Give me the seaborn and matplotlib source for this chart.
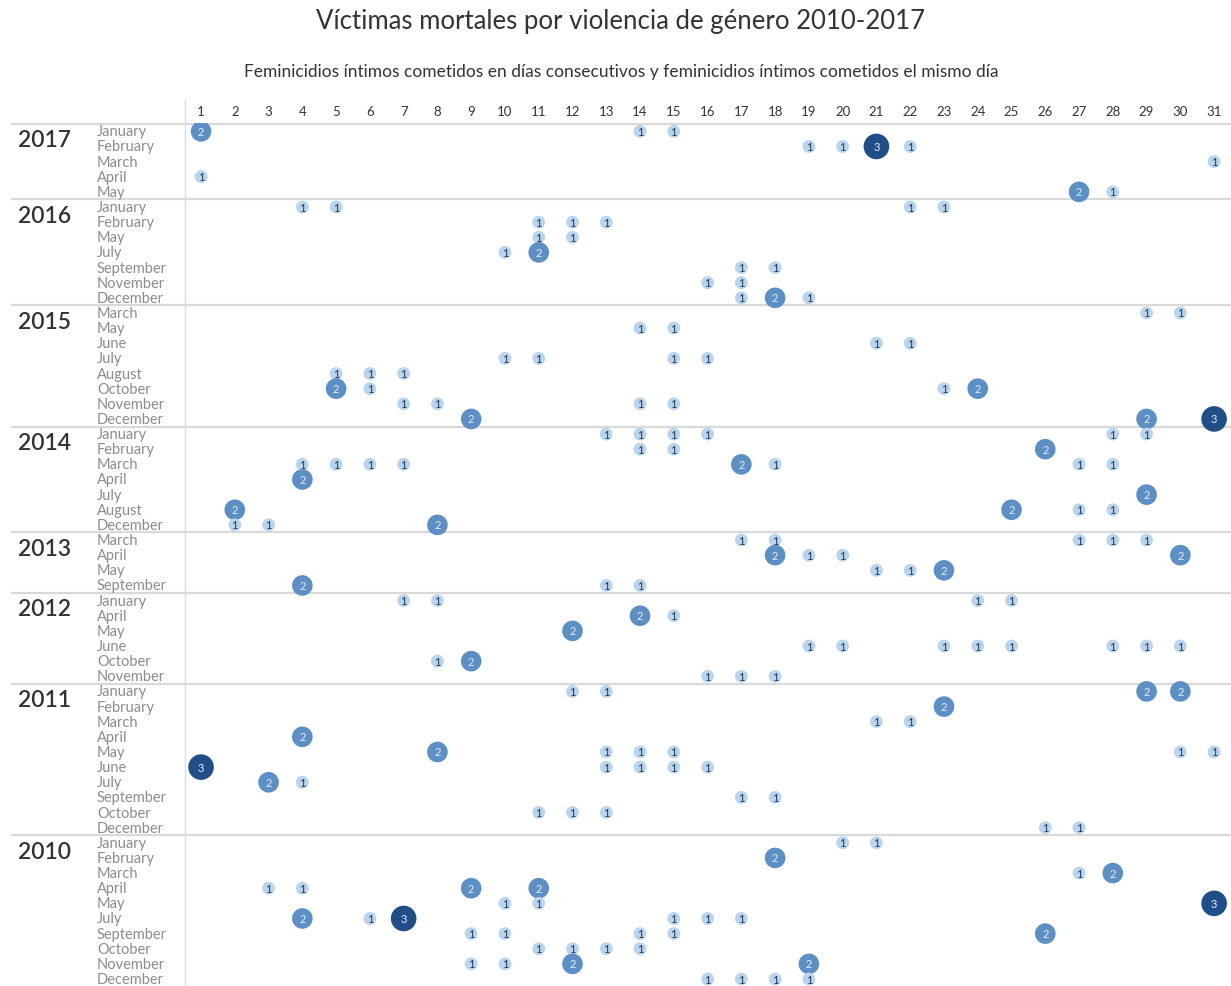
import matplotlib
matplotlib.use("Agg")
import matplotlib.pyplot as plt
import matplotlib.transforms as mtransforms
from matplotlib.lines import Line2D
import pandas as pd
import seaborn as sns

# ---------------- data ----------------
title = "Víctimas mortales por violencia de género 2010-2017"
subtitle = ("Feminicidios íntimos cometidos en días consecutivos y "
            "feminicidios íntimos cometidos el mismo día")

days = list(range(1, 32))
years = [2017, 2016, 2015, 2014, 2013, 2012, 2011, 2010]

months_2017 = ["January", "February", "March", "April", "May"]
months_2016 = ["January", "February", "May", "July", "September", "November", "December"]
months_2015 = ["March", "May", "June", "July", "August", "October", "November", "December"]
months_2014 = ["January", "February", "March", "April", "July", "August", "December"]
months_2013 = ["March", "April", "May", "September"]
months_2012 = ["January", "April", "May", "June", "October", "November"]
months_2011 = ["January", "February", "March", "April", "May", "June", "July",
               "September", "October", "December"]
months_2010 = ["January", "February", "March", "April", "May", "July", "September",
               "October", "November", "December"]

# (month, day, victims)
cases_2017 = [("January", 1, 2), ("January", 14, 1), ("January", 15, 1),
              ("February", 19, 1), ("February", 20, 1), ("February", 21, 3), ("February", 22, 1),
              ("March", 31, 1), ("April", 1, 1), ("May", 27, 2), ("May", 28, 1)]
cases_2016 = [("January", 4, 1), ("January", 5, 1), ("January", 22, 1), ("January", 23, 1),
              ("February", 11, 1), ("February", 12, 1), ("February", 13, 1),
              ("May", 11, 1), ("May", 12, 1), ("July", 10, 1), ("July", 11, 2),
              ("September", 17, 1), ("September", 18, 1),
              ("November", 16, 1), ("November", 17, 1),
              ("December", 17, 1), ("December", 18, 2), ("December", 19, 1)]
cases_2015 = [("March", 29, 1), ("March", 30, 1), ("May", 14, 1), ("May", 15, 1),
              ("June", 21, 1), ("June", 22, 1),
              ("July", 10, 1), ("July", 11, 1), ("July", 15, 1), ("July", 16, 1),
              ("August", 5, 1), ("August", 6, 1), ("August", 7, 1),
              ("October", 5, 2), ("October", 6, 1), ("October", 23, 1), ("October", 24, 2),
              ("November", 7, 1), ("November", 8, 1), ("November", 14, 1), ("November", 15, 1),
              ("December", 9, 2), ("December", 29, 2), ("December", 31, 3)]
cases_2014 = [("January", 13, 1), ("January", 14, 1), ("January", 15, 1), ("January", 16, 1),
              ("January", 28, 1), ("January", 29, 1),
              ("February", 14, 1), ("February", 15, 1), ("February", 26, 2),
              ("March", 4, 1), ("March", 5, 1), ("March", 6, 1), ("March", 7, 1),
              ("March", 17, 2), ("March", 18, 1), ("March", 27, 1), ("March", 28, 1),
              ("April", 4, 2), ("July", 29, 2),
              ("August", 2, 2), ("August", 25, 2), ("August", 27, 1), ("August", 28, 1),
              ("December", 2, 1), ("December", 3, 1), ("December", 8, 2)]
cases_2013 = [("March", 17, 1), ("March", 18, 1), ("March", 27, 1), ("March", 28, 1), ("March", 29, 1),
              ("April", 18, 2), ("April", 19, 1), ("April", 20, 1), ("April", 30, 2),
              ("May", 21, 1), ("May", 22, 1), ("May", 23, 2),
              ("September", 4, 2), ("September", 13, 1), ("September", 14, 1)]
cases_2012 = [("January", 7, 1), ("January", 8, 1), ("January", 24, 1), ("January", 25, 1),
              ("April", 14, 2), ("April", 15, 1), ("May", 12, 2),
              ("June", 19, 1), ("June", 20, 1), ("June", 23, 1), ("June", 24, 1), ("June", 25, 1),
              ("June", 28, 1), ("June", 29, 1), ("June", 30, 1),
              ("October", 8, 1), ("October", 9, 2),
              ("November", 16, 1), ("November", 17, 1), ("November", 18, 1)]
cases_2011 = [("January", 12, 1), ("January", 13, 1), ("January", 29, 2), ("January", 30, 2),
              ("February", 23, 2), ("March", 21, 1), ("March", 22, 1), ("April", 4, 2),
              ("May", 8, 2), ("May", 13, 1), ("May", 14, 1), ("May", 15, 1), ("May", 30, 1), ("May", 31, 1),
              ("June", 1, 3), ("June", 13, 1), ("June", 14, 1), ("June", 15, 1), ("June", 16, 1),
              ("July", 3, 2), ("July", 4, 1), ("September", 17, 1), ("September", 18, 1),
              ("October", 11, 1), ("October", 12, 1), ("October", 13, 1),
              ("December", 26, 1), ("December", 27, 1)]
cases_2010 = [("January", 20, 1), ("January", 21, 1), ("February", 18, 2),
              ("March", 27, 1), ("March", 28, 2),
              ("April", 3, 1), ("April", 4, 1), ("April", 9, 2), ("April", 11, 2),
              ("May", 10, 1), ("May", 11, 1), ("May", 31, 3),
              ("July", 4, 2), ("July", 6, 1), ("July", 7, 3), ("July", 15, 1), ("July", 16, 1), ("July", 17, 1),
              ("September", 9, 1), ("September", 10, 1), ("September", 14, 1), ("September", 15, 1),
              ("September", 26, 2),
              ("October", 11, 1), ("October", 12, 1), ("October", 13, 1), ("October", 14, 1),
              ("November", 9, 1), ("November", 10, 1), ("November", 12, 2), ("November", 19, 2),
              ("December", 16, 1), ("December", 17, 1), ("December", 18, 1), ("December", 19, 1)]

year_months = {2017: months_2017, 2016: months_2016, 2015: months_2015, 2014: months_2014,
               2013: months_2013, 2012: months_2012, 2011: months_2011, 2010: months_2010}
year_cases = {2017: cases_2017, 2016: cases_2016, 2015: cases_2015, 2014: cases_2014,
              2013: cases_2013, 2012: cases_2012, 2011: cases_2011, 2010: cases_2010}

# ---------------- build table ----------------
rows = []
for yr in years:
    for m in year_months[yr]:
        rows.append((yr, m))
row_index = {r: i for i, r in enumerate(rows)}

records = []
for yr in years:
    for (m, d, c) in year_cases[yr]:
        records.append({"year": yr, "month": m, "day": d, "count": c,
                        "row": row_index[(yr, m)]})
df = pd.DataFrame(records)

# ---------------- style ----------------
sns.set_theme(style="white")
plt.rcParams["font.family"] = ["Lato", "DejaVu Sans"]

W, H = 1231, 987
fig = plt.figure(figsize=(W / 100, H / 100), dpi=100)
fig.patch.set_facecolor("white")

ax_left, ax_top = 185, 124
ax = fig.add_axes([ax_left / W, 0, (W - ax_left) / W, (H - ax_top) / H])

palette = {1: "#b9d4ec", 2: "#5b8fc5", 3: "#1f4e89"}
sizes = {1: 85, 2: 220, 3: 340}
text_col = {1: "#1d3a5c", 2: "#e3eef8", 3: "#e3eef8"}

sns.scatterplot(data=df, x="day", y="row", hue="count", size="count",
                palette=palette, sizes=sizes, linewidth=0, legend=False,
                ax=ax, zorder=3, clip_on=True)

for _, r in df.iterrows():
    ax.text(r["day"], r["row"], str(int(r["count"])), ha="center", va="center",
            fontsize=8, color=text_col[int(r["count"])], zorder=4, clip_on=True)

n_rows = len(rows)
ax.set_xlim(0.525, 31.5)
ax.set_ylim(n_rows - 1 + 0.46, -0.55)

ax.xaxis.tick_top()
ax.set_xticks(days)
ax.set_xticklabels([str(d) for d in days])
ax.tick_params(axis="x", length=0, pad=4, labelsize=9.5, colors="#333333")
ax.set_yticks([])
ax.set_xlabel("")
ax.set_ylabel("")
for s in ["top", "right", "bottom"]:
    ax.spines[s].set_visible(False)
ax.spines["left"].set_color("#dcdcdc")
ax.spines["left"].set_linewidth(1.0)

# vertical line extension above the axes (header area)
fig.add_artist(Line2D([ax_left / W, ax_left / W], [(H - ax_top) / H, (H - 100) / H],
                      transform=fig.transFigure, color="#dcdcdc", lw=1.0))

blend = mtransforms.blended_transform_factory(fig.transFigure, ax.transData)

# year separators and labels
start = 0
for yr in years:
    n = len(year_months[yr])
    ax.plot([12 / W, 1.0], [start - 0.5, start - 0.5], transform=blend,
            color="#d9d9d9", lw=1.6, clip_on=False, zorder=1)
    ax.text(18 / W, start + 0.55, str(yr), transform=blend, ha="left", va="center",
            fontsize=16.5, color="#333333", fontweight="semibold")
    for i, m in enumerate(year_months[yr]):
        ax.text(97 / W, start + i, m, transform=blend, ha="left", va="center",
                fontsize=10.5, color="#8c8c8c")
    start += n

fig.text(620 / W, 1 - 22 / H, title, ha="center", va="center",
         fontsize=18.5, color="#333333")
fig.text(621 / W, 1 - 72 / H, subtitle, ha="center", va="center",
         fontsize=12.5, color="#333333")

fig.savefig("out.png", dpi=100, facecolor="white")
